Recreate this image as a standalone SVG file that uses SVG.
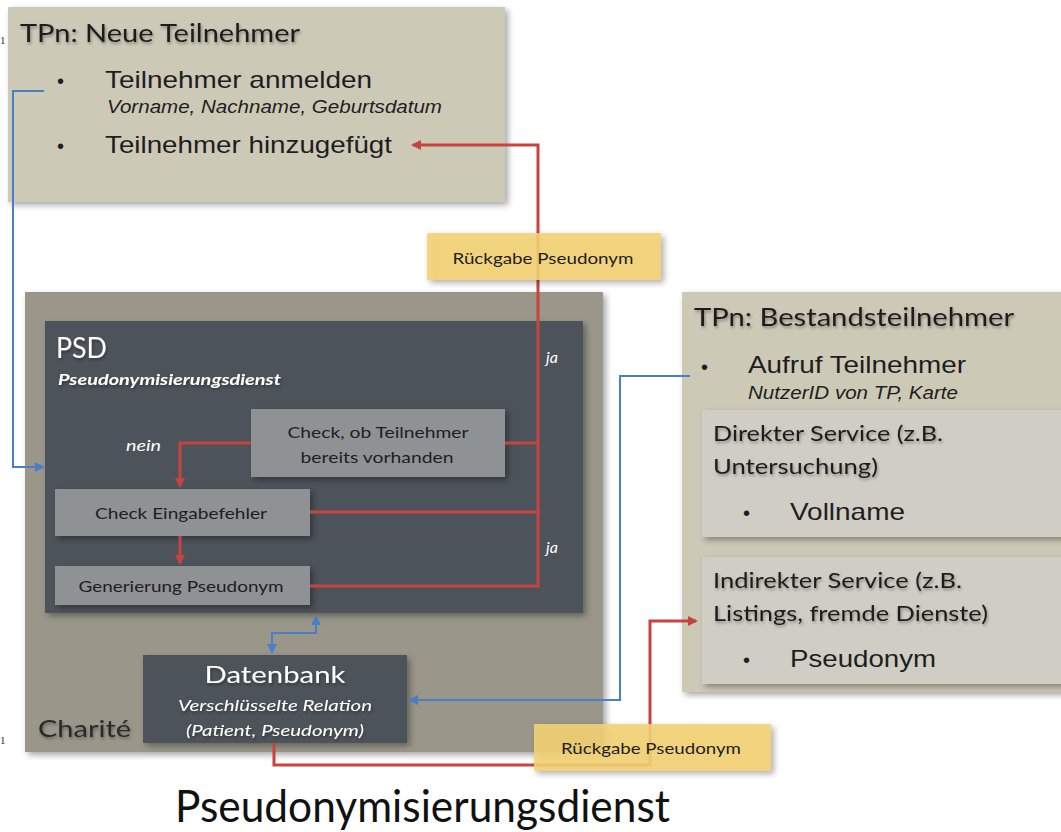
<svg xmlns="http://www.w3.org/2000/svg" width="1061" height="832" viewBox="0 0 1061 832">
  <defs>
    <filter id="boxShadow" x="-10%" y="-10%" width="125%" height="125%">
      <feDropShadow dx="3" dy="3" stdDeviation="3" flood-color="#000" flood-opacity="0.35"/>
    </filter>
    <filter id="textShadow" x="-5%" y="-30%" width="115%" height="180%">
      <feDropShadow dx="1" dy="2" stdDeviation="1.5" flood-color="#000" flood-opacity="0.35"/>
    </filter>
    <marker id="arrRed" markerWidth="10" markerHeight="10" refX="8" refY="5" orient="auto" markerUnits="userSpaceOnUse">
      <path d="M0,0 L10,5 L0,10 z" fill="#c9433e"/>
    </marker>
    <marker id="arrBlue" markerWidth="10" markerHeight="10" refX="8" refY="5" orient="auto" markerUnits="userSpaceOnUse">
      <path d="M0,0 L10,5 L0,10 z" fill="#4a7fc5"/>
    </marker>
    <marker id="arrBlueStart" markerWidth="10" markerHeight="10" refX="2" refY="5" orient="auto" markerUnits="userSpaceOnUse">
      <path d="M10,0 L0,5 L10,10 z" fill="#4a7fc5"/>
    </marker>
    <style>
      .cal { font-family: Lato, "Open Sans", "Noto Sans", sans-serif; }
      .ari { font-family: "Liberation Sans", Arial, sans-serif; }
      .tan { fill: #cdc9b7; }
      .lite { fill: #d0cdc4; }
      .dark { fill: #4d535a; }
      .step { fill: #8e9295; }
      .tag { fill: #f4d374; fill-opacity: 0.88; }
      .red { fill: none; stroke: #c9433e; stroke-width: 3; }
      .blue { fill: none; stroke: #4a7fc5; stroke-width: 2; }
      .wt { fill: #ffffff; }
      .dk { fill: #1e1e1e; }
    </style>
  </defs>

  <rect width="1061" height="832" fill="#ffffff"/>

  <!-- small page marks at the left edge -->
  <text x="0" y="44" font-family="Liberation Serif, serif" font-size="11" fill="#333">1</text>
  <text x="0" y="744" font-family="Liberation Serif, serif" font-size="11" fill="#333">1</text>

  <!-- existing participants -->
  <g id="tp-bestand">
    <rect x="682" y="292" width="385" height="400" class="tan" filter="url(#boxShadow)"/>
    <text x="694" y="326" class="cal dk" font-size="25" textLength="320" lengthAdjust="spacingAndGlyphs" filter="url(#textShadow)">TPn: Bestandsteilnehmer</text>
    <text x="701" y="374" class="ari dk" font-size="20">•</text>
    <text x="748" y="373" class="ari dk" font-size="24" textLength="218" lengthAdjust="spacingAndGlyphs">Aufruf Teilnehmer</text>
    <text x="748" y="399" class="ari dk" font-size="18" font-style="italic" textLength="210" lengthAdjust="spacingAndGlyphs">NutzerID von TP, Karte</text>
  </g>
  <g id="service-direkt">
    <rect x="702" y="410" width="365" height="127" class="lite" filter="url(#boxShadow)"/>
    <text x="713" y="441" class="cal dk" font-size="21" textLength="230" lengthAdjust="spacingAndGlyphs" filter="url(#textShadow)">Direkter Service (z.B.</text>
    <text x="713" y="474" class="cal dk" font-size="21" textLength="165" lengthAdjust="spacingAndGlyphs" filter="url(#textShadow)">Untersuchung)</text>
    <text x="743" y="520" class="ari dk" font-size="20">•</text>
    <text x="790" y="520" class="ari dk" font-size="24" textLength="115" lengthAdjust="spacingAndGlyphs">Vollname</text>
  </g>
  <g id="service-indirekt">
    <rect x="702" y="557" width="365" height="127" class="lite" filter="url(#boxShadow)"/>
    <text x="713" y="588" class="cal dk" font-size="21" textLength="249" lengthAdjust="spacingAndGlyphs" filter="url(#textShadow)">Indirekter Service (z.B.</text>
    <text x="713" y="621" class="cal dk" font-size="21" textLength="275" lengthAdjust="spacingAndGlyphs" filter="url(#textShadow)">Listings, fremde Dienste)</text>
    <text x="743" y="667" class="ari dk" font-size="20">•</text>
    <text x="790" y="667" class="ari dk" font-size="24" textLength="146" lengthAdjust="spacingAndGlyphs">Pseudonym</text>
  </g>

  <!-- new participants -->
  <g id="tp-neu">
    <rect x="8" y="7" width="497" height="195" class="tan" filter="url(#boxShadow)"/>
    <text x="20" y="42" class="cal dk" font-size="25" textLength="280" lengthAdjust="spacingAndGlyphs" filter="url(#textShadow)">TPn: Neue Teilnehmer</text>
    <text x="57" y="88" class="ari dk" font-size="20">•</text>
    <text x="105" y="88" class="ari dk" font-size="24" textLength="267" lengthAdjust="spacingAndGlyphs">Teilnehmer anmelden</text>
    <text x="107" y="113" class="ari dk" font-size="18" font-style="italic" textLength="335" lengthAdjust="spacingAndGlyphs">Vorname, Nachname, Geburtsdatum</text>
    <text x="57" y="153" class="ari dk" font-size="20">•</text>
    <text x="105" y="153" class="ari dk" font-size="24" textLength="287" lengthAdjust="spacingAndGlyphs">Teilnehmer hinzugefügt</text>
  </g>

  <!-- Charité container -->
  <g id="charite">
    <rect x="25" y="292" width="578" height="460" fill="#9a978a" filter="url(#boxShadow)"/>
    <text x="38" y="737" class="cal" font-size="24" fill="#2a2a2a" textLength="93" lengthAdjust="spacingAndGlyphs" filter="url(#textShadow)">Charité</text>
  </g>

  <!-- pseudonymisation service -->
  <g id="psd">
    <rect x="45" y="321" width="538" height="292" class="dark" filter="url(#boxShadow)"/>
    <text x="56" y="358" class="cal wt" font-size="28" textLength="51" lengthAdjust="spacingAndGlyphs" filter="url(#textShadow)">PSD</text>
    <text x="58" y="385" class="cal wt" font-size="16" font-style="italic" font-weight="bold" textLength="223" lengthAdjust="spacingAndGlyphs" filter="url(#textShadow)">Pseudonymisierungsdienst</text>
    <text x="546" y="363" class="cal wt" font-size="16" font-style="italic">ja</text>
    <text x="546" y="553" class="cal wt" font-size="16" font-style="italic">ja</text>
    <text x="126" y="451" class="cal wt" font-size="16" font-style="italic" textLength="35" lengthAdjust="spacingAndGlyphs">nein</text>
  </g>
  <g id="check-vorhanden">
    <rect x="251" y="409" width="254" height="68" class="step" filter="url(#boxShadow)"/>
    <text x="378" y="438" class="cal dk" font-size="16" text-anchor="middle" textLength="181" lengthAdjust="spacingAndGlyphs">Check, ob Teilnehmer</text>
    <text x="377" y="463" class="cal dk" font-size="16" text-anchor="middle" textLength="153" lengthAdjust="spacingAndGlyphs">bereits vorhanden</text>
  </g>
  <g id="check-eingabe">
    <rect x="55" y="489" width="255" height="47" class="step" filter="url(#boxShadow)"/>
    <text x="181" y="519" class="cal dk" font-size="16" text-anchor="middle" textLength="172" lengthAdjust="spacingAndGlyphs">Check Eingabefehler</text>
  </g>
  <g id="generierung">
    <rect x="55" y="566" width="255" height="39" class="step" filter="url(#boxShadow)"/>
    <text x="181" y="592" class="cal dk" font-size="16" text-anchor="middle" textLength="205" lengthAdjust="spacingAndGlyphs">Generierung Pseudonym</text>
  </g>

  <!-- database -->
  <g id="datenbank">
    <rect x="143" y="655" width="264" height="88" class="dark" filter="url(#boxShadow)"/>
    <text x="275" y="683" class="cal wt" font-size="24" text-anchor="middle" textLength="141" lengthAdjust="spacingAndGlyphs" filter="url(#textShadow)">Datenbank</text>
    <text x="275" y="711" class="cal wt" font-size="16" font-style="italic" text-anchor="middle" textLength="194" lengthAdjust="spacingAndGlyphs" filter="url(#textShadow)">Verschlüsselte Relation</text>
    <text x="275" y="736" class="cal wt" font-size="16" font-style="italic" text-anchor="middle" textLength="178" lengthAdjust="spacingAndGlyphs" filter="url(#textShadow)">(Patient, Pseudonym)</text>
  </g>

  <!-- connectors -->
  <g id="connectors">
    <!-- registration request into the service -->
    <polyline class="blue" points="44,91 13,91 13,467 43,467" marker-end="url(#arrBlue)"/>
    <!-- lookup of existing participants into the database -->
    <polyline class="blue" points="690,376 620,376 620,700 410,700" marker-end="url(#arrBlue)"/>
    <!-- service <-> database -->
    <polyline class="blue" points="316,617 316,633 272,633 272,652" marker-start="url(#arrBlueStart)" marker-end="url(#arrBlue)"/>
    <!-- decision flow -->
    <polyline class="red" points="251,443 180,443 180,486" marker-end="url(#arrRed)"/>
    <polyline class="red" points="180,536 180,563" marker-end="url(#arrRed)"/>
    <polyline class="red" points="505,443 538,443"/>
    <polyline class="red" points="310,512 538,512"/>
    <polyline class="red" points="310,586 538,586 538,145 413,145" marker-end="url(#arrRed)"/>
    <!-- pseudonym back to indirect services -->
    <polyline class="red" points="274,743 274,765 650,765 650,621 696,621" marker-end="url(#arrRed)"/>
  </g>

  <!-- return labels -->
  <g id="label-rueckgabe-1">
    <rect x="427" y="233" width="234" height="47" class="tag" filter="url(#boxShadow)"/>
    <text x="543" y="264" class="cal dk" font-size="15" text-anchor="middle" textLength="181" lengthAdjust="spacingAndGlyphs">Rückgabe Pseudonym</text>
  </g>
  <g id="label-rueckgabe-2">
    <rect x="534" y="724" width="237" height="47" class="tag" filter="url(#boxShadow)"/>
    <text x="651" y="754" class="cal dk" font-size="15" text-anchor="middle" textLength="180" lengthAdjust="spacingAndGlyphs">Rückgabe Pseudonym</text>
  </g>

  <!-- caption -->
  <text x="175" y="822" class="cal" font-size="44" fill="#111" textLength="495" lengthAdjust="spacingAndGlyphs">Pseudonymisierungsdienst</text>
</svg>
